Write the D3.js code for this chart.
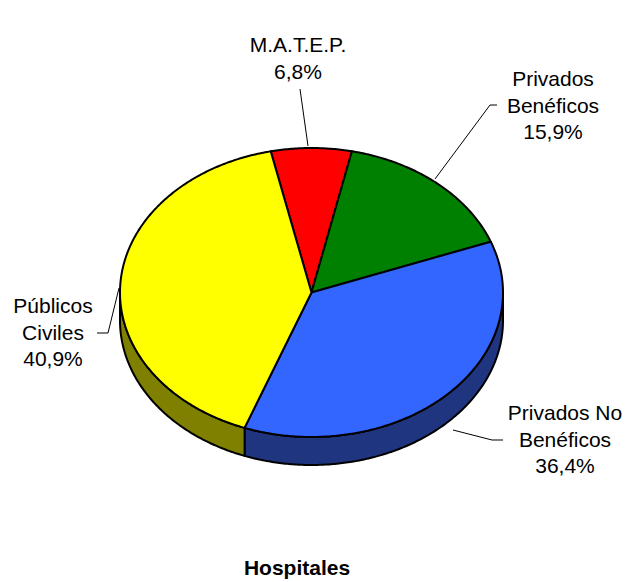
<!DOCTYPE html>
<html>
<head>
<meta charset="utf-8">
<script src="https://cdn.jsdelivr.net/npm/d3@7"></script>
<style>
  body { margin: 0; background: #fff; }
  text { font-family: "Liberation Sans", Arial, sans-serif; }
</style>
</head>
<body>
<div id="vis"></div>
<script>
// Frame constants
const FRAME_WIDTH = 630;
const FRAME_HEIGHT = 582;

// Data
const categories = ["M.A.T.E.P.", "Privados Benéficos", "Privados No Benéficos", "Públicos Civiles"];
const values = [6.8, 15.9, 36.4, 40.9];
const topColors = ["#FF0000", "#008000", "#3366FF", "#FFFF00"];
const sideColors = ["#800000", "#004000", "#1F3580", "#808000"];
const labelLines = [["M.A.T.E.P.", "6,8%"], ["Privados", "Benéficos", "15,9%"], ["Privados No", "Benéficos", "36,4%"], ["Públicos", "Civiles", "40,9%"]];
const title = "Hospitales";

// Ellipse geometry
const CX = 311.5, CY = 292.5, RX = 191.5, RY = 144.5, DEPTH = 28;
const START = -12.3 * Math.PI / 180;

const FRAME = d3.select("#vis")
  .append("svg")
    .attr("width", FRAME_WIDTH)
    .attr("height", FRAME_HEIGHT);

const pie = d3.pie().sort(null).startAngle(START).endAngle(START + 2 * Math.PI);
const arcs = pie(values);

// point on ellipse for parametric angle t (0 = top, clockwise)
function pt(t, dy) {
  return [CX + RX * Math.sin(t), CY - RY * Math.cos(t) + (dy || 0)];
}
function arcPoints(a, b, dy) {
  const n = Math.max(2, Math.ceil(Math.abs(b - a) / 0.01));
  return d3.range(n + 1).map(i => pt(a + (b - a) * i / n, dy));
}
const line = d3.line();

// Side walls (front half: t in [PI/2, 3PI/2])
const sides = FRAME.append("g");
arcs.forEach((d, i) => {
  const a = d.startAngle, b = d.endAngle;
  const segs = [];
  [[a, b], [a + 2 * Math.PI, b + 2 * Math.PI], [a - 2 * Math.PI, b - 2 * Math.PI]].forEach(([s, e]) => {
    const lo = Math.max(s, Math.PI / 2), hi = Math.min(e, 3 * Math.PI / 2);
    if (hi > lo) segs.push([lo, hi]);
  });
  segs.forEach(([lo, hi]) => {
    const pts = arcPoints(lo, hi, 0).concat(arcPoints(hi, lo, DEPTH));
    sides.append("path")
      .attr("d", line(pts) + "Z")
      .attr("fill", sideColors[i])
      .attr("stroke", "#000")
      .attr("stroke-width", 2)
      .attr("stroke-linejoin", "round");
  });
});

// Top faces
FRAME.append("g").selectAll("path")
  .data(arcs)
  .enter()
  .append("path")
    .attr("d", d => line([[CX, CY]].concat(arcPoints(d.startAngle, d.endAngle, 0))) + "Z")
    .attr("fill", (d, i) => topColors[i])
    .attr("stroke", "#000")
    .attr("stroke-width", 2)
    .attr("stroke-linejoin", "round");

// Labels
const labelPos = [
  {x: 298, y: 52},
  {x: 553, y: 86},
  {x: 565, y: 420},
  {x: 53, y: 313}
];
const leaders = [
  [[300, 89], [308, 146]],
  [[497, 105], [490, 105], [435, 179]],
  [[503, 440], [492, 440], [453, 430]],
  [[97, 333], [108, 333], [119, 288]]
];
FRAME.append("g").selectAll("path")
  .data(leaders)
  .enter()
  .append("path")
    .attr("d", d => line(d))
    .attr("fill", "none")
    .attr("stroke", "#000")
    .attr("stroke-width", 1);

labelLines.forEach((lines, i) => {
  const t = FRAME.append("text")
    .attr("text-anchor", "middle")
    .attr("font-size", "21px")
    .attr("fill", "#000");
  lines.forEach((s, j) => {
    t.append("tspan")
      .attr("x", labelPos[i].x)
      .attr("y", labelPos[i].y + j * 26.6)
      .text(s);
  });
});

FRAME.append("text")
  .attr("x", 297)
  .attr("y", 575)
  .attr("text-anchor", "middle")
  .attr("font-size", "21px")
  .attr("font-weight", "bold")
  .text(title);
</script>
</body>
</html>
